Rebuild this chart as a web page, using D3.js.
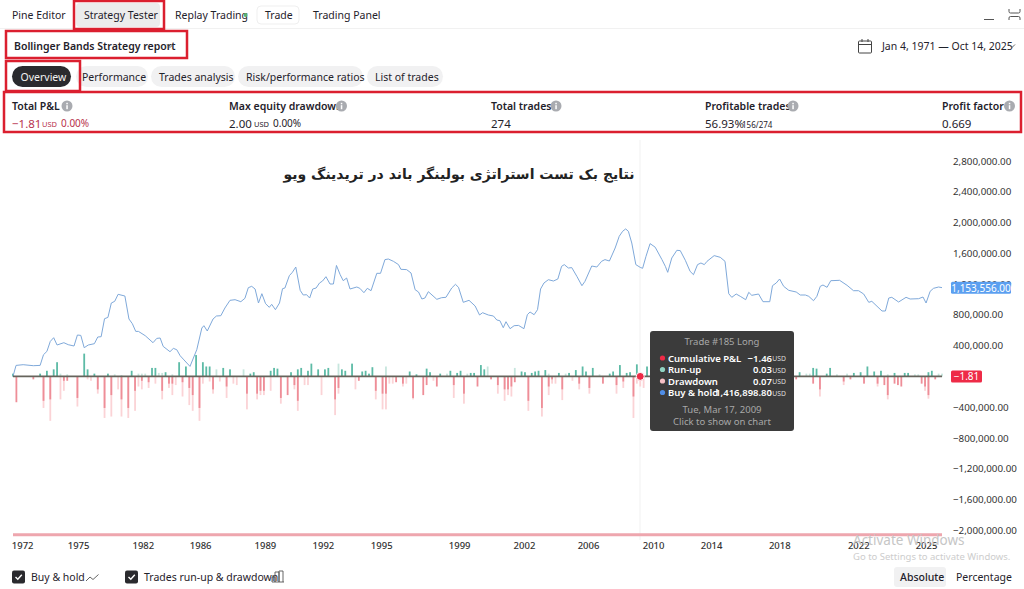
<!DOCTYPE html>
<html>
<head>
<meta charset="utf-8">
<script src="https://cdn.jsdelivr.net/npm/d3@7"></script>
<style>
  html, body { margin: 0; padding: 0; background: #fff; overflow: hidden; }
  svg { display: block; font-family: "Noto Sans", sans-serif; }
</style>
</head>
<body>
<svg id="chart" width="1024" height="589"></svg>
<script>
// buy & hold line (trade number / USD in thousands)
const holdTrades = [0,0.9,3,6,8,9,10,11,12,13,15,16.3,18,19,20,21,22.2,24,25,26,27,28,29,30,31,33,34.2,35.2,36.2,37,39,41.3,42.4,43.4,44.3,46.3,47.3,48.3,49.3,50.2,52.2,54.2,55.7,56.3,57.3,59,60,61.3,62.5,64,65.5,67.2,68.4,69.4,70.4,71.4,72.4,73.4,74.5,75.6,76.3,77.4,78.6,79.5,80.2,81.5,82.4,83.4,84.7,85.6,86.6,87.5,88.4,89.4,90.4,91.3,92.3,93.5,94.5,95.4,96.5,97.4,98.4,99.4,101.4,102.3,103.5,104.5,105.6,107.3,108.4,109.7,110.7,112.2,113.7,114.4,116.1,117.4,118.6,119.6,120.6,121.5,122.5,125,126.4,127.7,129.4,130.5,131.4,132.8,134.5,136.3,137.6,138.5,140.2,141.7,142.7,143.6,144.6,145.4,146.6,147.8,149.1,150.7,151.7,152.5,153.7,154.7,155.6,156.6,157.9,159.4,160.7,161.8,162.6,163.8,164.8,166.3,167.8,168.7,170.7,172.2,173.6,174.6,175.9,177.6,178.8,179.8,180.7,181.5,182.5,183.7,185,185.7,186.7,187.9,189.4,191.4,192.4,193.1,194.3,195.8,196.8,198.3,199.7,200.7,201.9,202.9,203.9,204.7,206.8,208.6,210,211.1,212,213.3,214.5,216.1,217,217.9,219.9,221.2,223.2,224,225.1,226.1,227.3,228.8,231,232.2,233.7,234.7,236.1,237.1,238.1,238.9,240.1,241.2,243.8,246,247.9,249.4,250.9,252.4,253.3,256.3,257.3,258.3,259.2,261.2,263.4,264.6,267.1,268.4,269.3,270.5,271.5,273,274];
const holdValues = [0,143,152,139,143,282,325,455,503,408,438,412,395,538,533,373,408,425,512,516,750,767,954,976,1067,1045,746,685,585,585,529,438,494,499,390,321,364,347,269,225,130,347,629,659,590,746,785,789,889,989,997,971,1015,1153,1171,1136,954,1075,945,898,937,867,954,1140,1149,1309,1353,1422,1119,1058,1062,1019,1136,1149,1214,1240,1296,1201,1201,1442,1322,1244,1279,1136,1162,1145,1088,1145,1114,1340,1340,1518,1526,1496,1453,1392,1388,1344,1127,1097,1006,1019,1101,1002,1023,1028,1149,1197,1158,963,989,915,798,828,798,785,733,724,633,711,620,659,663,620,802,837,802,867,1136,1214,1257,1240,1266,1431,1453,1409,1414,1301,1179,1236,1435,1422,1496,1518,1500,1669,1821,1886,1917,1886,1734,1453,1417,1405,1561,1726,1680,1518,1431,1353,1539,1639,1635,1509,1366,1322,1453,1474,1453,1496,1570,1548,1496,1075,1028,1071,1041,997,1093,1054,1071,971,971,1179,1214,1266,1171,1119,1097,1058,1058,1041,984,1041,1171,1188,1158,1244,1249,1184,1114,1114,1071,963,976,850,850,1019,1028,967,1028,1006,1010,1032,954,1106,1145,1162,1153.556];

// cumulative P&L in USD, sits on the zero line at this scale
const pnlTrades = [0,60,120,185,230,274];
const pnlValues = [0,-0.35,-0.8,-1.46,-1.6,-1.81];

// green bars: profit (solid) and run-up only (pale), USD
const profitTrades = [0,8,10,12,13,21,22,24,28,35,41,42,45,49,51,54,56,57,58,62,64,70,71,76,77,78,82,84,85,87,88,90,92,93,97,98,100,103,104,105,106,117,119,122,123,126,129,131,132,135,136,138,139,150,151,153,154,155,157,161,164,166,168,169,171,176,177,179,181,182,184,187,232,236,237,240,241,248,250,252,254,256,260,263,264,270,271];
const profitValues = [0.02,0.02,0.04,0.05,0.10,0.16,0.05,0.02,0.02,0.04,0.06,0.06,0.03,0.10,0.07,0.15,0.10,0.07,0.07,0.06,0.05,0.02,0.03,0.04,0.06,0.055,0.03,0.05,0.06,0.04,0.09,0.05,0.05,0.06,0.05,0.04,0.09,0.035,0.04,0.02,0.065,0.035,0.015,0.055,0.03,0.02,0.04,0.025,0.04,0.025,0.025,0.08,0.05,0.035,0.03,0.025,0.035,0.04,0.045,0.025,0.025,0.045,0.07,0.035,0.06,0.02,0.035,0.08,0.025,0.03,0.085,0.07,0.03,0.06,0.055,0.02,0.06,0.025,0.03,0.07,0.035,0.04,0.025,0.025,0.025,0.03,0.04];
const runUpTrades = [14,16,30,32,37,38,39,43,44,47,60,68,96,110,128,134,140,148,158,163,173,234,235,243,246,258,266,267,273,274];
const runUpValues = [0.02,0.015,0.015,0.01,0.02,0.02,0.02,0.025,0.025,0.015,0.05,0.05,0.09,0.07,0.02,0.02,0.07,0.06,0.02,0.02,0.015,0.02,0.02,0.015,0.02,0.015,0.015,0.015,0.02,0.02];

// red bars: loss (solid) and drawdown (pale), USD
const lossTrades = [1,6,9,11,15,16,19,25,27,29,32,34,36,38,40,44,46,47,50,52,53,55,59,63,69,72,73,74,79,81,83,84,95,96,102,107,109,110,113,115,118,121,122,125,130,133,137,141,143,145,146,147,148,152,156,158,159,162,167,170,174,178,180,183,231,236,238,245,247,251,255,257,258,260,261,262,268,269,270,272];
const lossValues = [0.18,0.02,0.17,0.16,0.03,0.03,0.15,0.09,0.22,0.13,0.16,0.22,0.10,0.03,0.04,0.10,0.05,0.05,0.04,0.08,0.13,0.22,0.09,0.07,0.12,0.12,0.10,0.10,0.15,0.13,0.06,0.17,0.16,0.08,0.03,0.10,0.12,0.12,0.04,0.05,0.15,0.13,0.06,0.07,0.06,0.12,0.07,0.02,0.06,0.09,0.09,0.07,0.04,0.17,0.22,0.07,0.02,0.09,0.05,0.08,0.05,0.06,0.035,0.14,0.02,0.05,0.09,0.035,0.02,0.05,0.05,0.06,0.13,0.05,0.06,0.07,0.05,0.07,0.13,0.02];
const drawTrades = [9,11,14,15,19,22,23,25,27,29,31,32,34,36,37,38,40,42,44,46,47,48,50,52,53,55,56,58,59,61,63,65,66,69,72,73,74,76,79,83,84,86,87,91,95,96,101,107,109,110,111,112,115,116,118,124,130,133,143,145,146,147,152,156,158,159,160,162,165,167,170,178,180,183,184,185,186,238,245,255,258,269,270];
const drawValues = [0.22,0.31,0.16,0.10,0.21,0.02,0.03,0.12,0.29,0.28,0.09,0.28,0.29,0.24,0.07,0.09,0.08,0.05,0.16,0.08,0.13,0.06,0.14,0.20,0.24,0.31,0.05,0.035,0.12,0.035,0.15,0.05,0.06,0.23,0.16,0.13,0.13,0.10,0.19,0.09,0.24,0.06,0.06,0.13,0.27,0.12,0.09,0.16,0.23,0.23,0.05,0.05,0.07,0.05,0.16,0.03,0.15,0.19,0.12,0.17,0.13,0.14,0.24,0.28,0.13,0.05,0.05,0.165,0.03,0.09,0.12,0.12,0.08,0.29,0.05,0.07,0.08,0.14,0.06,0.07,0.16,0.10,0.155];

const priceTicks = [2800000,2400000,2000000,1600000,1200000,800000,400000,0,-400000,-800000,-1200000,-1600000,-2000000];
const yearLabels = ["1972","1975","1982","1986","1989","1992","1995","1999","2002","2006","2010","2014","2018","2022","2025"];
const yearTrades = [2.7,19.2,38.3,55.2,74.3,91.4,108.6,131.6,150.7,169.6,188.8,205.9,226,249.3,269.3];

const svg = d3.select("#chart");

// small helpers for the text and boxes of the panel
function label(txt, x, y, size, color, weight, anchor) {
    return svg.append("text").attr("x", x).attr("y", y)
        .attr("font-size", size || 10.5)
        .attr("fill", color || "#1f222b")
        .attr("font-weight", weight || 400)
        .attr("text-anchor", anchor || "start")
        .attr("dominant-baseline", "central")
        .text(txt);
}
function box(x, y, w, h, fill, r) {
    return svg.append("rect").attr("x", x).attr("y", y).attr("width", w).attr("height", h)
        .attr("rx", r || 0).attr("fill", fill);
}
function chevron(x, y) {
    svg.append("path").attr("d", `M${x - 3},${y - 1.5}L${x},${y + 1.5}L${x + 3},${y - 1.5}`)
        .attr("fill", "none").attr("stroke", "#555").attr("stroke-width", 0.9);
}
function infoIcon(x, y) {
    svg.append("circle").attr("cx", x).attr("cy", y).attr("r", 5.5).attr("fill", "#a9abb0");
    svg.append("rect").attr("x", x - 0.7).attr("y", y - 0.8).attr("width", 1.5).attr("height", 4).attr("fill", "#fff");
    svg.append("rect").attr("x", x - 0.7).attr("y", y - 3.2).attr("width", 1.5).attr("height", 1.5).attr("fill", "#fff");
}

// top tabs
box(0, 28, 1024, 1, "#f1f1f1");
box(76, 3, 84, 24, "#ececec", 4);
label("Pine Editor", 12, 15);
label("Strategy Tester", 84, 15);
label("Replay Trading", 175, 15);
svg.append("circle").attr("cx", 245.5).attr("cy", 15).attr("r", 1.9).attr("fill", "#5cb270");
box(257, 6, 42, 18, "#fff", 4).attr("stroke", "#efefef");
label("Trade", 265, 15);
label("Trading Panel", 313, 15);
box(984, 19, 10, 1, "#555");
svg.append("path").attr("d", "M1009,9v2.5q0,1.5,1.5,1.5h8q1.5,0,1.5-1.5V9M1009,20v-2q0-1.5,1.5-1.5h8q1.5,0,1.5,1.5v2")
    .attr("fill", "none").attr("stroke", "#555");

// report title and date range
label("Bollinger Bands Strategy report", 14, 46, 10.5, "#1f222b", 600);
chevron(170, 46);
svg.append("rect").attr("x", 858.5).attr("y", 41).attr("width", 13).attr("height", 12).attr("rx", 1)
    .attr("fill", "none").attr("stroke", "#444");
box(859, 44, 12, 1, "#444");
box(861.5, 39, 1, 3, "#444");
box(867.5, 39, 1, 3, "#444");
label("Jan 4, 1971 — Oct 14, 2025", 882, 46);
chevron(1012, 46);

// overview pills
box(12, 66, 59, 21, "#2a2a2e", 10.5);
label("Overview", 20.5, 76.5, 10.5, "#f2f2f2");
box(76, 66, 72, 21, "#f1f1f2", 10.5);
label("Performance", 82, 76.5);
box(151, 66, 84, 21, "#f1f1f2", 10.5);
label("Trades analysis", 159, 76.5);
box(238, 66, 125, 21, "#f1f1f2", 10.5);
label("Risk/performance ratios", 246, 76.5);
box(367, 66, 76, 21, "#f1f1f2", 10.5);
label("List of trades", 375, 76.5);

// key numbers row
label("Total P&L", 12, 106, 10.5, "#1f222b", 600);
infoIcon(67, 106);
label("Max equity drawdown", 229, 106, 10.5, "#1f222b", 600);
infoIcon(341.5, 106);
label("Total trades", 491, 106, 10.5, "#1f222b", 600);
infoIcon(556, 106);
label("Profitable trades", 705, 106, 10.5, "#1f222b", 600);
infoIcon(793, 106);
label("Profit factor", 942, 106, 10.5, "#1f222b", 600);
infoIcon(1009.5, 106);
label("−1.81", 12, 123, 11.5, "#b8324e");
label("USD", 42, 124, 7.5, "#b8324e");
label("0.00%", 61, 123, 10, "#b8324e");
label("2.00", 229, 123, 11.5);
label("USD", 254, 124, 7.5);
label("0.00%", 273, 123, 10);
label("274", 491, 123, 11.5);
label("56.93%", 705, 123, 11.5);
label("156/274", 742, 124, 8);
label("0.669", 942, 123, 11.5);

// red marks around the panel
const marks = svg.append("g").attr("fill", "none").attr("stroke", "#db1f2f").attr("stroke-width", 2.5);
marks.append("rect").attr("x", 74).attr("y", 1).attr("width", 90).attr("height", 28);
marks.append("rect").attr("x", 6).attr("y", 31).attr("width", 181).attr("height", 27);
marks.append("rect").attr("x", 6).attr("y", 61).attr("width", 74).attr("height", 30);
marks.append("rect").attr("x", 4).attr("y", 92).attr("width", 1017).attr("height", 40);

// chart
const x = d3.scaleLinear().domain([0, 274]).range([13, 942]);
const y = d3.scaleLinear().domain([-2000000, 2800000]).range([530.25, 161]);
const yBar = d3.scaleLinear().domain([-0.3, 0.3]).range([419.4, 333.6]);

box(639.5, 140, 1, 400, "#f2f2f2");

function drawBars(trades, values, color, up) {
    svg.append("g").attr("fill", color).selectAll("rect")
        .data(trades)
        .join("rect")
        .attr("x", d => x(d) - 0.9)
        .attr("width", 1.8)
        .attr("y", (d, i) => up ? yBar(values[i]) : yBar(0))
        .attr("height", (d, i) => Math.abs(yBar(values[i]) - yBar(0)));
}
drawBars(runUpTrades, runUpValues, "#c7e6de", true);
drawBars(drawTrades, drawValues, "#fbd3d6", false);
drawBars(profitTrades, profitValues, "#5dbba6", true);
drawBars(lossTrades, lossValues, "#ee8e98", false);

const holdLine = d3.line().x((d, i) => x(holdTrades[i])).y(d => y(d * 1000));
svg.append("path").datum(holdValues).attr("d", holdLine)
    .attr("fill", "none").attr("stroke", "#7fa9da").attr("stroke-width", 1);

const pnlLine = d3.line().x((d, i) => x(pnlTrades[i])).y(d => y(d));
svg.append("path").datum(pnlValues).attr("d", pnlLine)
    .attr("fill", "none").attr("stroke", "#66645c").attr("stroke-width", 1.6);

// pink band at the foot of the plot
svg.append("line").attr("x1", x(0)).attr("x2", x(274)).attr("y1", y(-2060000)).attr("y2", y(-2060000))
    .attr("stroke", "#eea6ae").attr("stroke-width", 3);

// axes
const fmtPrice = d3.format(",.2f");
const yAxis = svg.append("g").attr("transform", "translate(953,0)")
    .call(d3.axisRight(y).tickValues(priceTicks).tickSize(0).tickPadding(0)
        .tickFormat(d => (d < 0 ? "−" : "") + fmtPrice(Math.abs(d))));
yAxis.select(".domain").remove();
yAxis.selectAll("text").attr("fill", "#333").attr("font-size", 9.8)
    .attr("font-family", "Noto Sans, sans-serif");

const xAxis = svg.append("g").attr("transform", "translate(0,542)")
    .call(d3.axisBottom(x).tickValues(yearTrades).tickSize(0).tickPadding(0)
        .tickFormat((d, i) => yearLabels[i]));
xAxis.select(".domain").remove();
xAxis.selectAll("text").attr("fill", "#333").attr("font-size", 9.5).attr("font-weight", 500)
    .attr("font-family", "Noto Sans, sans-serif");

// last value labels on the price scale
const lastHold = holdValues[holdValues.length - 1] * 1000;
box(951, y(lastHold) - 6, 60, 12, "#5b9ff0", 1.5);
label(fmtPrice(lastHold), 981, y(lastHold), 10, "#fff", 400, "middle");
const lastPnl = pnlValues[pnlValues.length - 1];
box(951, y(lastPnl) - 6, 31, 12, "#ee2b47", 1.5);
label("−" + Math.abs(lastPnl).toFixed(2), 966.5, y(lastPnl), 10, "#fff", 400, "middle");

// hovered trade
svg.append("circle").attr("cx", x(185)).attr("cy", y(0)).attr("r", 4).attr("fill", "#ee2b47").attr("stroke", "#fff");

box(650, 331, 144, 100, "#3b3b3b", 3);
label("Trade #185 Long", 722, 341, 9.5, "#a8a8a8", 400, "middle");
const tipRows = [
    ["Cumulative P&L", "−1.46", "#ee2b47"],
    ["Run-up", "0.03", "#8fd3c3"],
    ["Drawdown", "0.07", "#f7c1c7"],
    ["Buy & hold", "1,416,898.80", "#4f8ee8"]
];
tipRows.forEach((row, i) => {
    const rowY = 358 + i * 11.5;
    svg.append("circle").attr("cx", 662.5).attr("cy", rowY).attr("r", 2.6).attr("fill", row[2]);
    label(row[0], 668, rowY, 9.5, "#fff", 600);
    label(row[1], 772, rowY, 9.5, "#fff", 600, "end");
    label("USD", 786, rowY + 0.5, 6.8, "#ddd", 400, "end");
});
label("Tue, Mar 17, 2009", 722, 409.5, 9.5, "#a8a8a8", 400, "middle");
label("Click to show on chart", 722, 421, 9.5, "#a8a8a8", 400, "middle");

// picture title, persian
svg.append("text").attr("x", 459).attr("y", 174)
    .attr("font-family", "DejaVu Sans, sans-serif").attr("font-size", 14).attr("font-weight", 700)
    .attr("fill", "#222").attr("text-anchor", "middle").attr("dominant-baseline", "central")
    .attr("direction", "rtl")
    .text("نتایج بک تست استراتژی بولینگر باند در تریدینگ ویو");

// bottom toggles
function checkbox(bx, by) {
    box(bx, by, 13, 13, "#2a2a2e", 2);
    svg.append("path").attr("d", `M${bx + 3.5},${by + 6.5}l2.3,2.3l4-4.6`)
        .attr("fill", "none").attr("stroke", "#fff").attr("stroke-width", 1.4);
}
checkbox(12, 570.5);
label("Buy & hold", 31, 577);
svg.append("path").attr("d", "M86,581l4-4l3,2.5l5.5-5").attr("fill", "none").attr("stroke", "#555").attr("stroke-width", 0.9);
checkbox(125, 570.5);
label("Trades run-up & drawdown", 144, 577);
svg.append("path").attr("d", "M272,582v-5h3v5M275,582v-10h4v10M279,582v-11h4v11M272,582h12")
    .attr("fill", "none").attr("stroke", "#555").attr("stroke-width", 0.9);
box(894, 567, 52, 20, "#f1f1f2", 3);
label("Absolute", 900, 577, 10.5, "#1f222b", 500);
label("Percentage", 956, 577);

// the windows watermark sitting on top of the screenshot
label("Activate Windows", 853, 539.5, 13.5, "#c6c6c6");
label("Go to Settings to activate Windows.", 853, 556, 9.5, "#cdcdcd");
</script>
</body>
</html>
